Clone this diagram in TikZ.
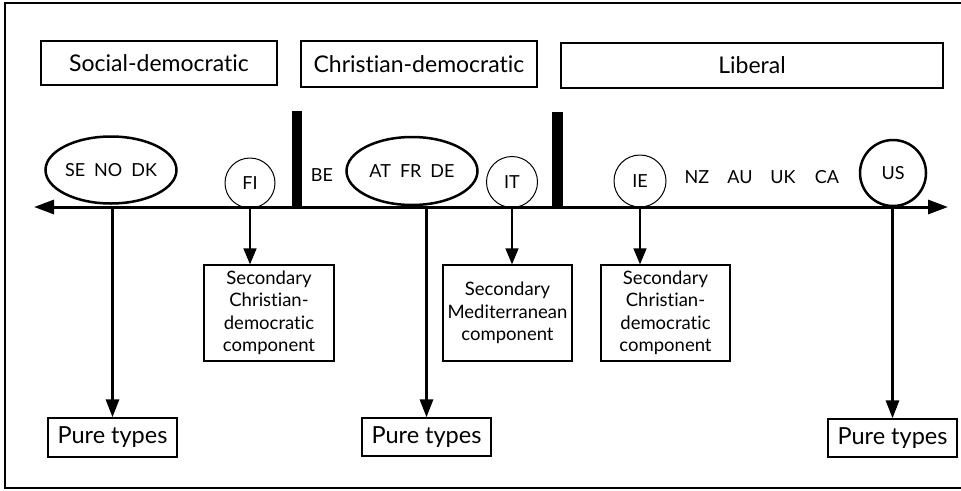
\documentclass[tikz,border=0pt]{standalone}
\usepackage{fontspec}
\setmainfont{Lato}[Ligatures=NoCommon]
\usetikzlibrary{arrows.meta,shapes.geometric}
\begin{document}
\begin{tikzpicture}[x=1pt,y=-1pt,
  topbox/.style={draw,line width=1.3pt,inner sep=0pt,font=\fontsize{23}{27}\selectfont},
  purebox/.style={draw,line width=1.3pt,inner sep=0pt,minimum width=129pt,minimum height=38pt,font=\fontsize{23.5}{27}\selectfont},
  secbox/.style={draw,line width=1.3pt,inner sep=0pt,minimum width=129pt,minimum height=96pt,align=center,font=\fontsize{18.5}{22.5}\selectfont},
  bigell/.style={draw,ellipse,line width=2.5pt,inner sep=0pt,minimum width=131pt,minimum height=67pt,font=\fontsize{18}{21}\selectfont},
  thincirc/.style={draw,circle,line width=1pt,inner sep=0pt,font=\fontsize{18}{21}\selectfont},
  cty/.style={inner sep=0pt,font=\fontsize{18}{21}\selectfont},
  axisline/.style={line width=3pt,{Triangle[length=20pt,width=14pt]}-{Triangle[length=20pt,width=14pt]}},
  thickarr/.style={line width=3pt,-{Triangle[length=18pt,width=13pt]}},
  thinarr/.style={line width=1.5pt,-{Triangle[length=16pt,width=13pt]}}
]
\useasboundingbox (0,0) rectangle (961,490);
% frame
\draw[line width=1.5pt] (975,3) -- (5,3) -- (5,488) -- (975,488);
% top boxes
\node[topbox,minimum width=236pt,minimum height=44pt] (sd) at (159,63) {Social-democratic};
\node[topbox,minimum width=236pt,minimum height=46pt] (cd) at (419,64) {Christian-democratic};
\node[topbox,minimum width=382pt,minimum height=45pt] (lib) at (752,65.5) {Liberal};
% axis
\coordinate (axL) at (34,207);
\coordinate (axR) at (948,207);
\draw[axisline] (axL) -- (axR);
% bars
\fill (292,111) rectangle (302,208.5);
\fill (552,112) rectangle (563,208.5);
% country groups
\node[bigell] (sendk) at (111,170) {SE\hspace{0.5em}NO\hspace{0.5em}DK};
\node[bigell,minimum height=68pt] (atde) at (412,171) {AT\hspace{0.5em}FR\hspace{0.5em}DE};
\node[thincirc,minimum size=50pt] (fi) at (250,183) {FI};
\node[cty] (be) at (322,175) {BE};
\node[thincirc,minimum size=51pt] (it) at (512,182) {IT};
\node[thincirc,minimum size=52pt] (ie) at (640,181) {IE};
\node[cty] (nz) at (697,177) {NZ};
\node[cty] (au) at (740,177) {AU};
\node[cty] (uk) at (783,177) {UK};
\node[cty] (ca) at (827,177) {CA};
\node[thincirc,line width=2.5pt,minimum size=66pt] (us) at (893,173) {US};
% bottom boxes
\node[purebox,minimum height=39pt] (pt1) at (112.5,437.5) {Pure types};
\node[purebox] (pt2) at (426.5,437) {Pure types};
\node[purebox] (pt3) at (892.5,438) {Pure types};
\node[secbox,minimum width=130pt] (s1) at (269,313) {Secondary\\Christian-\\democratic\\component};
\node[secbox] (s2) at (507.5,313) {Secondary\\Mediterranean\\component};
\node[secbox] (s3) at (665.5,313) {Secondary\\Christian-\\democratic\\component};
% arrows
\draw[thickarr] (pt1.north |- axL) -- (pt1.north);
\draw[thickarr] (pt2.north |- axL) -- (pt2.north);
\draw[thickarr] (pt3.north |- axL) -- (pt3.north);
\draw[thinarr] (fi.south) -- (fi.south |- s1.north);
\draw[thinarr] (it.south) -- (it.south |- s2.north);
\draw[thinarr] (ie.south) -- (ie.south |- s3.north);
\end{tikzpicture}
\end{document}
